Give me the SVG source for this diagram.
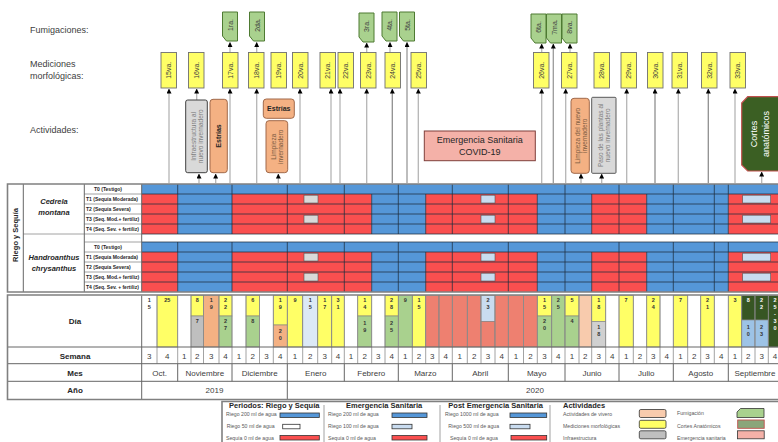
<svg xmlns="http://www.w3.org/2000/svg" width="778" height="442" viewBox="0 0 778 442">
<defs>
<style>
text{font-family:"Liberation Sans",Arial,sans-serif}
.lbl{font-size:9px;fill:#404040}
.mb{fill:#ffff66;stroke:#6f6f6f;stroke-width:.9}
.fb{fill:#a9d18e;stroke:#4e7a32;stroke-width:1}
.rt{font-size:7px;fill:#404040;text-anchor:middle;dominant-baseline:central}
.ln{stroke:#b5b5b5;stroke-width:1.3;fill:none;marker-end:url(#ah)}
.ob{fill:#f4b183;stroke:#a0694a;stroke-width:1}
.gb{fill:#d9d9d9;stroke:#404040;stroke-width:1}
.sm{font-size:6.5px;fill:#7f7f7f;text-anchor:middle;dominant-baseline:central}
.smo{font-size:6.5px;fill:#7a5a40;text-anchor:middle;dominant-baseline:central}
.bt{font-size:7px;font-weight:bold;fill:#262626;text-anchor:middle;dominant-baseline:central}
.bl{fill:#5597d8}.rd{fill:#fa4f4f}
.gl{stroke:#1e2e3e;stroke-width:1;stroke-opacity:.75;fill:none}
.tl{stroke:#8c8c8c;stroke-width:.8;fill:none}
.ml{stroke:#666;stroke-width:1;fill:none}
.fr{stroke:#808080;stroke-width:1.6;fill:none}
.tr{font-size:5px;font-weight:bold;fill:#262626}
.dn{font-size:5.5px;font-weight:bold;fill:#333;text-anchor:middle}
.dw{font-size:5.5px;font-weight:bold;fill:#fff;text-anchor:middle}
.wk{font-size:8px;fill:#404040;text-anchor:middle}
.hd{font-size:8px;font-weight:bold;fill:#262626;text-anchor:middle}
.lg{font-size:5.2px;fill:#595959}
.lh{font-size:7.5px;font-weight:bold;fill:#262626}
.sw{stroke:#333;stroke-width:.8}
.cs{stroke:#7f7f7f;stroke-width:.6}
.lc{stroke:#555;stroke-width:.6}
</style>
<marker id="ah" viewBox="0 0 6 6" refX="5.5" refY="3" markerWidth="5" markerHeight="5" markerUnits="userSpaceOnUse" orient="auto"><path d="M0,0 L6,3 L0,6 z" fill="#000"/></marker>
<path id="fum" d="M0,0H15V29H4L0,24Z"/>
</defs>
<rect width="778" height="442" fill="#fff"/>

<!-- Row labels -->
<g id="row-labels">
<text class="lbl" x="30" y="33">Fumigaciones:</text>
<text class="lbl" x="30" y="66.5">Mediciones</text>
<text class="lbl" x="30" y="78.5">morfológicas:</text>
<text class="lbl" x="30" y="133">Actividades:</text>
</g>

<!-- Connectors -->
<g id="connectors">
<path class="ln" d="M169,183V89"/>
<path class="ln" d="M196.7,100V89"/>
<path class="ln" d="M199,183V174"/>
<path class="ln" d="M215.7,183V174"/>
<path class="ln" d="M230,183V89"/>
<path class="ln" d="M256.7,183V89"/>
<path class="ln" d="M278.3,183V174"/>
<path class="ln" d="M300,183V89"/>
<path class="ln" d="M331,183V89"/>
<path class="ln" d="M340,183V89"/>
<path class="ln" d="M366.7,183V89"/>
<path class="ln" d="M392.3,183V89" style="stroke:#8f8f8f"/>
<path class="ln" d="M418.3,183V89"/>
<path class="ln" d="M541.7,183V89"/>
<path class="ln" d="M565.7,183V89"/>
<path class="ln" d="M581,183V174"/>
<path class="ln" d="M601.7,183V174"/>
<path class="ln" d="M626.7,183V89"/>
<path class="ln" d="M655,183V89" style="stroke:#8f8f8f"/>
<path class="ln" d="M678.3,183V89"/>
<path class="ln" d="M708.3,183V89" style="stroke:#8f8f8f"/>
<path class="ln" d="M735,183V89"/>
<path class="ln" d="M761.7,183V172"/>
<path class="ln" d="M230,52V42.5"/>
<path class="ln" d="M256.7,52V42.5"/>
<path class="ln" d="M366.7,52V43"/>
<path class="ln" d="M390,52V42.5"/>
<path class="ln" d="M407,183V42.5" style="stroke:#9a9a9a"/>
<path class="ln" d="M541.7,52V44"/>
<path class="ln" d="M553.3,183V44" style="stroke:#9a9a9a"/>
<path class="ln" d="M570,52V44"/>
</g>

<!-- Fumigation nodes -->
<g id="fum-1ra"><use href="#fum" class="fb" x="222.5" y="12"/><text class="rt" x="230" y="25" transform="rotate(-90 230 25)">1ra.</text></g>
<g id="fum-2da"><use href="#fum" class="fb" x="249.5" y="12"/><text class="rt" x="257" y="25" transform="rotate(-90 257 25)">2da.</text></g>
<g id="fum-3ra"><use href="#fum" class="fb" x="359" y="13"/><text class="rt" x="366.5" y="26" transform="rotate(-90 366.5 26)">3ra.</text></g>
<g id="fum-4ta"><use href="#fum" class="fb" x="382" y="12"/><text class="rt" x="389.5" y="25" transform="rotate(-90 389.5 25)">4ta.</text></g>
<g id="fum-5ta"><use href="#fum" class="fb" x="399.5" y="12"/><text class="rt" x="407" y="25" transform="rotate(-90 407 25)">5ta.</text></g>
<g id="fum-6ta"><use href="#fum" class="fb" x="531" y="14"/><text class="rt" x="538.5" y="27" transform="rotate(-90 538.5 27)">6ta.</text></g>
<g id="fum-7ma"><use href="#fum" class="fb" x="546.5" y="14"/><text class="rt" x="554" y="27" transform="rotate(-90 554 27)">7ma.</text></g>
<g id="fum-8va"><use href="#fum" class="fb" x="562" y="14"/><text class="rt" x="569.5" y="27" transform="rotate(-90 569.5 27)">8va.</text></g>

<!-- Measurement nodes -->
<g id="m-15"><rect class="mb" x="161" y="52.5" width="15.5" height="35.5"/><text class="rt" x="168.75" y="70.25" transform="rotate(-90 168.75 70.25)">15va.</text></g>
<g id="m-16"><rect class="mb" x="188.5" y="52.5" width="15.5" height="35.5"/><text class="rt" x="196.25" y="70.25" transform="rotate(-90 196.25 70.25)">16va.</text></g>
<g id="m-17"><rect class="mb" x="222.5" y="52.5" width="15.5" height="35.5"/><text class="rt" x="230.25" y="70.25" transform="rotate(-90 230.25 70.25)">17va.</text></g>
<g id="m-18"><rect class="mb" x="248.5" y="52.5" width="15.5" height="35.5"/><text class="rt" x="256.25" y="70.25" transform="rotate(-90 256.25 70.25)">18va.</text></g>
<g id="m-19"><rect class="mb" x="271" y="52.5" width="15.5" height="35.5"/><text class="rt" x="278.75" y="70.25" transform="rotate(-90 278.75 70.25)">19va.</text></g>
<g id="m-20"><rect class="mb" x="292.5" y="52.5" width="15.5" height="35.5"/><text class="rt" x="300.25" y="70.25" transform="rotate(-90 300.25 70.25)">20va.</text></g>
<g id="m-21"><rect class="mb" x="320" y="52.5" width="15.5" height="35.5"/><text class="rt" x="327.75" y="70.25" transform="rotate(-90 327.75 70.25)">21va.</text></g>
<g id="m-22"><rect class="mb" x="338" y="52.5" width="15.5" height="35.5"/><text class="rt" x="345.75" y="70.25" transform="rotate(-90 345.75 70.25)">22va.</text></g>
<g id="m-23"><rect class="mb" x="360.5" y="52.5" width="15.5" height="35.5"/><text class="rt" x="368.25" y="70.25" transform="rotate(-90 368.25 70.25)">23va.</text></g>
<g id="m-24"><rect class="mb" x="385" y="52.5" width="15.5" height="35.5"/><text class="rt" x="392.75" y="70.25" transform="rotate(-90 392.75 70.25)">24va.</text></g>
<g id="m-25"><rect class="mb" x="411" y="52.5" width="15.5" height="35.5"/><text class="rt" x="418.75" y="70.25" transform="rotate(-90 418.75 70.25)">25va.</text></g>
<g id="m-26"><rect class="mb" x="533.5" y="52.5" width="15.5" height="35.5"/><text class="rt" x="541.25" y="70.25" transform="rotate(-90 541.25 70.25)">26va.</text></g>
<g id="m-27"><rect class="mb" x="561.5" y="52.5" width="15.5" height="35.5"/><text class="rt" x="569.25" y="70.25" transform="rotate(-90 569.25 70.25)">27va.</text></g>
<g id="m-28"><rect class="mb" x="594" y="52.5" width="15.5" height="35.5"/><text class="rt" x="601.75" y="70.25" transform="rotate(-90 601.75 70.25)">28va.</text></g>
<g id="m-29"><rect class="mb" x="621" y="52.5" width="15.5" height="35.5"/><text class="rt" x="628.75" y="70.25" transform="rotate(-90 628.75 70.25)">29va.</text></g>
<g id="m-30"><rect class="mb" x="647.5" y="52.5" width="15.5" height="35.5"/><text class="rt" x="655.25" y="70.25" transform="rotate(-90 655.25 70.25)">30va.</text></g>
<g id="m-31"><rect class="mb" x="672" y="52.5" width="15.5" height="35.5"/><text class="rt" x="679.75" y="70.25" transform="rotate(-90 679.75 70.25)">31va.</text></g>
<g id="m-32"><rect class="mb" x="701.5" y="52.5" width="15.5" height="35.5"/><text class="rt" x="709.25" y="70.25" transform="rotate(-90 709.25 70.25)">32va.</text></g>
<g id="m-33"><rect class="mb" x="730" y="52.5" width="15.5" height="35.5"/><text class="rt" x="737.75" y="70.25" transform="rotate(-90 737.75 70.25)">33va.</text></g>

<!-- Activity nodes -->
<g id="a-infra"><rect class="gb" x="185.7" y="100" width="21.6" height="72.7" rx="2"/><text class="sm" transform="rotate(-90 196.5 136.3)"><tspan x="196.5" y="133">Infraestructura al</tspan><tspan x="196.5" y="140">nuevo invernadero</tspan></text></g>
<g id="a-estrias1"><rect class="ob" x="210" y="99.3" width="17.3" height="73.4" rx="3"/><text class="bt" x="218.7" y="136" transform="rotate(-90 218.7 136)">Estrías</text></g>
<g id="a-estrias2"><rect class="ob" x="263.3" y="99" width="31" height="19.3" rx="3"/><text class="bt" x="278.8" y="108.7">Estrías</text></g>
<g id="a-limpieza1"><rect class="ob" x="266" y="120.7" width="21.7" height="52" rx="3"/><text class="smo" transform="rotate(-90 276.8 146.7)"><tspan x="276.8" y="143.2">Limpieza</tspan><tspan x="276.8" y="150.2">invernadero</tspan></text></g>
<g id="a-emergencia"><rect x="424.3" y="131" width="111" height="29.7" fill="#f4b1a8" stroke="#7f3f3a" stroke-width="1"/><text x="479.8" y="142.5" font-size="9" fill="#262626" text-anchor="middle">Emergencia Sanitaria</text><text x="479.8" y="154.5" font-size="9" fill="#262626" text-anchor="middle">COVID-19</text></g>
<g id="a-limpieza2"><rect class="ob" x="571" y="98.3" width="18.3" height="75" rx="3"/><text class="smo" transform="rotate(-90 580.2 135.8)"><tspan x="580.2" y="132.3">Limpieza del nuevo</tspan><tspan x="580.2" y="139.3">invernadero</tspan></text></g>
<g id="a-paso"><rect class="gb" x="591.7" y="97.3" width="24.3" height="76" rx="1" style="stroke:#595959"/><text class="sm" transform="rotate(-90 603.8 135.3)"><tspan x="603.8" y="131.8">Paso de las plantas al</tspan><tspan x="603.8" y="138.8">nuevo invernadero</tspan></text></g>
<g id="a-cortes"><path d="M741.7,103 L747.7,96.7 H790 V171 H747.7 L741.7,165 Z" fill="#3b5f23" stroke="#c0504d" stroke-width="1.2"/><text font-size="9" fill="#fff" text-anchor="middle" dominant-baseline="central" transform="rotate(-90 760 134)"><tspan x="760" y="127.5">Cortes</tspan><tspan x="760" y="139.5">anatómicos</tspan></text></g>

<!-- Riego y Sequia grid -->
<g id="riego-grid">
<rect class="bl" x="141.7" y="184" width="636.3" height="10"/>
<rect class="bl" x="141.7" y="242" width="636.3" height="10"/>
<g id="seg-c">
<rect class="rd" x="141.7" y="194" width="36" height="40"/>
<rect class="bl" x="177.7" y="194" width="54.3" height="40"/>
<rect class="rd" x="232" y="194" width="139.7" height="40"/>
<rect class="bl" x="371.7" y="194" width="54" height="40"/>
<rect class="rd" x="425.7" y="194" width="111.6" height="40"/>
<rect class="bl" x="537.3" y="194" width="54.4" height="40"/>
<rect class="rd" x="591.7" y="194" width="55" height="40"/>
<rect class="bl" x="646.7" y="194" width="81.6" height="40"/>
<rect class="rd" x="728.3" y="194" width="49.7" height="40"/>
</g>
<use href="#seg-c" y="58"/>
<g id="cells-c">
<rect x="304" y="195.2" width="14" height="7.8" fill="#d9d9d9" stroke="#555" stroke-width=".6"/>
<rect x="304" y="215.2" width="14" height="7.8" fill="#d9d9d9" stroke="#555" stroke-width=".6"/>
<rect x="481" y="195.2" width="14" height="7.8" fill="#c9dcf0" stroke="#555" stroke-width=".6"/>
<rect x="481" y="215.2" width="14" height="7.8" fill="#c9dcf0" stroke="#555" stroke-width=".6"/>
<rect x="742.7" y="195.2" width="28" height="7.8" fill="#c9dcf0" stroke="#555" stroke-width=".6"/>
<rect x="742.7" y="215.2" width="28" height="7.8" fill="#c9dcf0" stroke="#555" stroke-width=".6"/>
</g>
<use href="#cells-c" y="58"/>
<path class="gl" d="M141.7,194H778M141.7,204H778M141.7,214H778M141.7,224H778M141.7,234H778M141.7,242H778M141.7,252H778M141.7,262H778M141.7,272H778M141.7,282H778"/>
<path class="gl" d="M177.7,184V234M177.7,242V292M232,184V234M232,242V292M287.3,184V234M287.3,242V292M344.3,184V234M344.3,242V292M398.3,184V234M398.3,242V292M452.3,184V234M452.3,242V292M508.3,184V234M508.3,242V292M565,184V234M565,242V292M619,184V234M619,242V292M673.3,184V234M673.3,242V292M714.3,184V234M714.3,242V292M728.3,184V234M728.3,242V292"/>
<path class="gl" d="M371.7,194V234M371.7,252V292M425.7,194V234M425.7,252V292M537.3,194V234M537.3,252V292M591.7,194V234M591.7,252V292M646.7,194V234M646.7,252V292"/>
</g>

<!-- Riego labels -->
<g id="riego-labels">
<path class="tl" d="M84.3,194H141.7M84.3,204H141.7M84.3,214H141.7M84.3,224H141.7M23.3,234H141.7M84.3,242H141.7M84.3,252H141.7M84.3,262H141.7M84.3,272H141.7M84.3,282H141.7"/>
<path class="ml" d="M23.3,184V292M84.3,184V292M141.7,184V292"/>
<path class="fr" d="M778,184H7.5V292H778"/>
<text font-size="7.5" font-weight="bold" fill="#262626" text-anchor="middle" dominant-baseline="central" x="15" y="235" transform="rotate(-90 15 235)">Riego y Sequía</text>
<text font-size="7.5" font-weight="bold" font-style="italic" fill="#262626" text-anchor="middle" x="54" y="204">Cedrela</text>
<text font-size="7.5" font-weight="bold" font-style="italic" fill="#262626" text-anchor="middle" x="54" y="215">montana</text>
<text font-size="7.5" font-weight="bold" font-style="italic" fill="#262626" text-anchor="middle" x="54" y="260">Handroanthus</text>
<text font-size="7.5" font-weight="bold" font-style="italic" fill="#262626" text-anchor="middle" x="54" y="271">chrysanthus</text>
<text class="tr" x="94" y="190.8">T0 (Testigo)</text>
<text class="tr" x="86" y="200.8">T1 (Sequía Moderada)</text>
<text class="tr" x="86" y="210.8">T2 (Sequía Severa)</text>
<text class="tr" x="86" y="220.8">T3 (Seq. Mod.+ fertiliz)</text>
<text class="tr" x="86" y="230.8">T4 (Seq. Sev. + fertiliz)</text>
<text class="tr" x="94" y="248.8">T0 (Testigo)</text>
<text class="tr" x="86" y="258.8">T1 (Sequía Moderada)</text>
<text class="tr" x="86" y="268.8">T2 (Sequía Severa)</text>
<text class="tr" x="86" y="278.8">T3 (Seq. Mod.+ fertiliz)</text>
<text class="tr" x="86" y="288.8">T4 (Seq. Sev. + fertiliz)</text>
</g>

<!-- Day cells -->
<g id="dia-row">
<rect class="cs" x="157" y="295.5" width="20.7" height="51.5" fill="#ffff66"/>
<rect class="cs" x="191" y="295.5" width="12.5" height="20.5" fill="#ffff66"/>
<rect class="cs" x="191" y="316" width="12.5" height="31" fill="#bfbfbf"/>
<rect class="cs" x="203.5" y="295.5" width="15.5" height="51.5" fill="#f4b183"/>
<rect class="cs" x="219" y="295.5" width="13" height="20.5" fill="#ffff66"/>
<rect class="cs" x="219" y="316" width="13" height="31" fill="#a9d18e"/>
<rect class="cs" x="246" y="295.5" width="13.5" height="20.5" fill="#ffff66"/>
<rect class="cs" x="246" y="316" width="13.5" height="31" fill="#a9d18e"/>
<rect class="cs" x="273.3" y="295.5" width="14" height="29.5" fill="#ffff66"/>
<rect class="cs" x="273.3" y="325" width="14" height="22" fill="#f4b183"/>
<rect class="cs" x="287.3" y="295.5" width="15.4" height="51.5" fill="#ffff66"/>
<rect class="cs" x="302.7" y="295.5" width="15" height="51.5" fill="#dce9f6"/>
<rect class="cs" x="317.7" y="295.5" width="14" height="51.5" fill="#ffff66"/>
<rect class="cs" x="331.7" y="295.5" width="12.6" height="51.5" fill="#ffff66"/>
<rect class="cs" x="357.7" y="295.5" width="14" height="20.5" fill="#ffff66"/>
<rect class="cs" x="357.7" y="316" width="14" height="31" fill="#a9d18e"/>
<rect class="cs" x="385" y="295.5" width="13.3" height="20.5" fill="#ffff66"/>
<rect class="cs" x="385" y="316" width="13.3" height="31" fill="#a9d18e"/>
<rect class="cs" x="398.3" y="295.5" width="14" height="51.5" fill="#a9d18e"/>
<rect class="cs" x="412.3" y="295.5" width="13.4" height="51.5" fill="#ffff66"/>
<rect class="cs" x="425.7" y="295.5" width="13.3" height="51.5" fill="#ee8070"/>
<rect class="cs" x="439" y="295.5" width="13.3" height="51.5" fill="#ee8070"/>
<rect class="cs" x="452.3" y="295.5" width="15" height="51.5" fill="#ee8070"/>
<rect class="cs" x="467.3" y="295.5" width="13.7" height="51.5" fill="#ee8070"/>
<rect class="cs" x="481" y="295.5" width="14" height="26" fill="#c9dcf0"/>
<rect class="cs" x="481" y="321.5" width="14" height="25.5" fill="#ee8070"/>
<rect class="cs" x="495" y="295.5" width="13.3" height="51.5" fill="#ee8070"/>
<rect class="cs" x="508.3" y="295.5" width="15.2" height="51.5" fill="#ee8070"/>
<rect class="cs" x="523.5" y="295.5" width="13.8" height="51.5" fill="#ee8070"/>
<rect class="cs" x="537.3" y="295.5" width="14.4" height="20.5" fill="#ffff66"/>
<rect class="cs" x="537.3" y="316" width="14.4" height="31" fill="#a9d18e"/>
<rect class="cs" x="551.7" y="295.5" width="13.3" height="51.5" fill="#a9d18e"/>
<rect class="cs" x="565" y="295.5" width="14" height="20.5" fill="#ffff66"/>
<rect class="cs" x="565" y="316" width="14" height="31" fill="#a9d18e"/>
<rect class="cs" x="579" y="295.5" width="12.7" height="51.5" fill="#f8cbad"/>
<rect class="cs" x="591.7" y="295.5" width="14" height="26" fill="#ffff66"/>
<rect class="cs" x="591.7" y="321.5" width="14" height="25.5" fill="#d0d0d0"/>
<rect class="cs" x="619" y="295.5" width="14.3" height="51.5" fill="#ffff66"/>
<rect class="cs" x="646.7" y="295.5" width="13.3" height="51.5" fill="#ffff66"/>
<rect class="cs" x="673.3" y="295.5" width="14.4" height="51.5" fill="#ffff66"/>
<rect class="cs" x="700.7" y="295.5" width="13.6" height="51.5" fill="#ffff66"/>
<rect class="cs" x="728.3" y="295.5" width="13.4" height="51.5" fill="#ffff66"/>
<rect class="cs" x="741.7" y="295.5" width="13.3" height="24.5" fill="#375623"/>
<rect class="cs" x="741.7" y="320" width="13.3" height="27" fill="#9dc3e6"/>
<rect class="cs" x="755" y="295.5" width="13.3" height="24.5" fill="#375623"/>
<rect class="cs" x="755" y="320" width="13.3" height="27" fill="#9dc3e6"/>
<rect class="cs" x="768.3" y="295.5" width="13.3" height="51.5" fill="#375623"/>

<text class="dn" x="149.35" y="302">1</text><text class="dn" x="149.35" y="309">5</text>
<text class="dn" x="167.35" y="302">25</text>
<text class="dn" x="197.25" y="302">8</text><text class="dn" x="197.25" y="323">7</text>
<text class="dn" x="211.25" y="302">1</text><text class="dn" x="211.25" y="309">9</text>
<text class="dn" x="225.5" y="302">2</text><text class="dn" x="225.5" y="309">2</text>
<text class="dn" x="225.5" y="323">2</text><text class="dn" x="225.5" y="330">7</text>
<text class="dn" x="252.75" y="302">6</text><text class="dn" x="252.75" y="323">8</text>
<text class="dn" x="280.3" y="302">1</text><text class="dn" x="280.3" y="309">9</text>
<text class="dn" x="280.3" y="333">2</text><text class="dn" x="280.3" y="340">0</text>
<text class="dn" x="295" y="302">9</text>
<text class="dn" x="310.2" y="302">1</text><text class="dn" x="310.2" y="309">5</text>
<text class="dn" x="324.7" y="302">1</text><text class="dn" x="324.7" y="309">7</text>
<text class="dn" x="338" y="302">3</text><text class="dn" x="338" y="309">1</text>
<text class="dn" x="364.7" y="302">1</text><text class="dn" x="364.7" y="309">4</text>
<text class="dn" x="364.7" y="325">1</text><text class="dn" x="364.7" y="332">9</text>
<text class="dn" x="391.65" y="302">2</text><text class="dn" x="391.65" y="309">8</text>
<text class="dn" x="391.65" y="325">2</text><text class="dn" x="391.65" y="332">5</text>
<text class="dn" x="405.3" y="302">9</text>
<text class="dn" x="419" y="302">1</text><text class="dn" x="419" y="309">5</text>
<text class="dn" x="488" y="302">2</text><text class="dn" x="488" y="309">3</text>
<text class="dn" x="544.5" y="302">1</text><text class="dn" x="544.5" y="309">5</text>
<text class="dn" x="544.5" y="323">2</text><text class="dn" x="544.5" y="330">0</text>
<text class="dn" x="558.35" y="302">2</text><text class="dn" x="558.35" y="309">5</text>
<text class="dn" x="572" y="302">5</text><text class="dn" x="572" y="323">4</text>
<text class="dn" x="598.7" y="302">1</text><text class="dn" x="598.7" y="309">8</text>
<text class="dn" x="598.7" y="329">1</text><text class="dn" x="598.7" y="336">8</text>
<text class="dn" x="626.15" y="302">7</text>
<text class="dn" x="653.35" y="302">2</text><text class="dn" x="653.35" y="309">4</text>
<text class="dn" x="680.5" y="302">7</text>
<text class="dn" x="707.5" y="302">2</text><text class="dn" x="707.5" y="309">1</text>
<text class="dn" x="735" y="302">3</text>
<text class="dw" x="748.35" y="302">8</text>
<text class="dn" x="748.35" y="329">1</text><text class="dn" x="748.35" y="336">0</text>
<text class="dw" x="761.65" y="302">2</text><text class="dw" x="761.65" y="309">2</text>
<text class="dn" x="761.65" y="329">2</text><text class="dn" x="761.65" y="336">3</text>
<text class="dw" x="774.95" y="302">2</text><text class="dw" x="774.95" y="309">5</text><text class="dw" x="774.95" y="316">-</text><text class="dw" x="774.95" y="323">3</text><text class="dw" x="774.95" y="330">0</text>
</g>

<!-- Time table -->
<g id="time-table">
<path class="tl" d="M157,295.5V363.7M177.7,295.5V363.7M191,295.5V363.7M203.5,295.5V363.7M219,295.5V363.7M232,295.5V363.7M246,295.5V363.7M259.5,295.5V363.7M273.3,295.5V363.7M287.3,295.5V363.7M302.7,295.5V363.7M317.7,295.5V363.7M331.7,295.5V363.7M344.3,295.5V363.7M357.7,295.5V363.7M371.7,295.5V363.7M385,295.5V363.7M398.3,295.5V363.7M412.3,295.5V363.7M425.7,295.5V363.7M439,295.5V363.7M452.3,295.5V363.7M467.3,295.5V363.7M481,295.5V363.7M495,295.5V363.7M508.3,295.5V363.7M523.5,295.5V363.7M537.3,295.5V363.7M551.7,295.5V363.7M565,295.5V363.7M579,295.5V363.7M591.7,295.5V363.7M605.7,295.5V363.7M619,295.5V363.7M633.3,295.5V363.7M646.7,295.5V363.7M660,295.5V363.7M673.3,295.5V363.7M687.7,295.5V363.7M700.7,295.5V363.7M714.3,295.5V363.7M728.3,295.5V363.7M741.7,295.5V363.7M755,295.5V363.7M768.3,295.5V363.7"/>
<path class="ml" d="M177.7,363.7V381.3M232,363.7V381.3M287.3,363.7V399M344.3,363.7V381.3M398.3,363.7V381.3M452.3,363.7V381.3M508.3,363.7V381.3M565,363.7V381.3M619,363.7V381.3M673.3,363.7V381.3M728.3,363.7V381.3"/>
<path class="ml" d="M7.5,347H778M7.5,363.7H778M7.5,381.3H778M141.7,295.5V399"/>
<path class="fr" d="M778,295H7.5V399.5H778"/>
<text class="hd" x="75" y="324">Día</text>
<text class="hd" x="75" y="358.5">Semana</text>
<text class="hd" x="75" y="375.5">Mes</text>
<text class="hd" x="75" y="393">Año</text>
<text class="wk" x="149.35" y="358.5">3</text><text class="wk" x="167.35" y="358.5">4</text>
<text class="wk" x="184.35" y="358.5">1</text><text class="wk" x="197.25" y="358.5">2</text><text class="wk" x="211.25" y="358.5">3</text><text class="wk" x="225.5" y="358.5">4</text>
<text class="wk" x="239" y="358.5">1</text><text class="wk" x="252.75" y="358.5">2</text><text class="wk" x="266.4" y="358.5">3</text><text class="wk" x="280.3" y="358.5">4</text>
<text class="wk" x="295" y="358.5">1</text><text class="wk" x="310.2" y="358.5">2</text><text class="wk" x="324.7" y="358.5">3</text><text class="wk" x="338" y="358.5">4</text>
<text class="wk" x="351" y="358.5">1</text><text class="wk" x="364.7" y="358.5">2</text><text class="wk" x="378.35" y="358.5">3</text><text class="wk" x="391.65" y="358.5">4</text>
<text class="wk" x="405.3" y="358.5">1</text><text class="wk" x="419" y="358.5">2</text><text class="wk" x="432.35" y="358.5">3</text><text class="wk" x="445.65" y="358.5">4</text>
<text class="wk" x="459.8" y="358.5">1</text><text class="wk" x="474.15" y="358.5">2</text><text class="wk" x="488" y="358.5">3</text><text class="wk" x="501.65" y="358.5">4</text>
<text class="wk" x="515.9" y="358.5">1</text><text class="wk" x="530.4" y="358.5">2</text><text class="wk" x="544.5" y="358.5">3</text><text class="wk" x="558.35" y="358.5">4</text>
<text class="wk" x="572" y="358.5">1</text><text class="wk" x="585.35" y="358.5">2</text><text class="wk" x="598.7" y="358.5">3</text><text class="wk" x="612.35" y="358.5">4</text>
<text class="wk" x="626.15" y="358.5">1</text><text class="wk" x="640" y="358.5">2</text><text class="wk" x="653.35" y="358.5">3</text><text class="wk" x="666.65" y="358.5">4</text>
<text class="wk" x="680.5" y="358.5">1</text><text class="wk" x="694.2" y="358.5">2</text><text class="wk" x="707.5" y="358.5">3</text><text class="wk" x="721.3" y="358.5">4</text>
<text class="wk" x="735" y="358.5">1</text><text class="wk" x="748.35" y="358.5">2</text><text class="wk" x="761.65" y="358.5">3</text><text class="wk" x="774.95" y="358.5">4</text>
<text class="wk" x="159.7" y="375.5">Oct.</text>
<text class="wk" x="204.9" y="375.5">Noviembre</text>
<text class="wk" x="259.7" y="375.5">Diciembre</text>
<text class="wk" x="315.8" y="375.5">Enero</text>
<text class="wk" x="371.3" y="375.5">Febrero</text>
<text class="wk" x="425.3" y="375.5">Marzo</text>
<text class="wk" x="480.3" y="375.5">Abril</text>
<text class="wk" x="536.7" y="375.5">Mayo</text>
<text class="wk" x="592" y="375.5">Junio</text>
<text class="wk" x="646.2" y="375.5">Julio</text>
<text class="wk" x="700.8" y="375.5">Agosto</text>
<text class="wk" x="755" y="375.5">Septiembre</text>
<text class="wk" x="214.5" y="393">2019</text>
<text class="wk" x="535" y="393">2020</text>
</g>

<!-- Legend -->
<g id="legend">
<path class="fr" d="M222,442V401.5H778"/>
<path class="tl" d="M324,405V442M440,405V442M550,405V442"/>
<text class="lh" x="229" y="408">Periodos: Riego y Sequía</text>
<text class="lg" x="226" y="416">Riego 200 ml de agua</text>
<rect class="sw" x="280" y="413" width="39.3" height="4.5" fill="#5597d8"/>
<text class="lg" x="226.7" y="427.7">Riego 50 ml de agua</text>
<rect class="sw" x="282.7" y="424.3" width="17.3" height="4.5" fill="#fff"/>
<text class="lg" x="226" y="439.5">Sequía 0 ml de agua</text>
<rect class="sw" x="280" y="435.5" width="39.3" height="4.5" fill="#fa4f4f"/>

<text class="lh" x="346" y="408">Emergencia Sanitaria</text>
<text class="lg" x="328" y="416">Riego 200 ml de agua</text>
<rect class="sw" x="392" y="413" width="35" height="4.5" fill="#5597d8"/>
<text class="lg" x="328" y="427.7">Riego 100 ml de agua</text>
<rect class="sw" x="392" y="424.3" width="20" height="4.5" fill="#c9dcf0"/>
<text class="lg" x="328" y="439.5">Sequía 0 ml de agua</text>
<rect class="sw" x="392" y="435.5" width="35" height="4.5" fill="#fa4f4f"/>

<text class="lh" x="448.3" y="408">Post Emergencia Sanitaria</text>
<text class="lg" x="445" y="416">Riego 1000 ml de agua</text>
<rect class="sw" x="510" y="413" width="36.7" height="4.5" fill="#5597d8"/>
<text class="lg" x="448.3" y="427.7">Riego 500 ml de agua</text>
<rect class="sw" x="510" y="424.3" width="20" height="4.5" fill="#c9dcf0"/>
<text class="lg" x="450" y="439.5">Sequía 0 ml de agua</text>
<rect class="sw" x="511" y="435.5" width="35.7" height="4.5" fill="#fa4f4f"/>

<text class="lh" x="563" y="407.5">Actividades</text>
<text class="lg" x="563" y="416">Actividades de vivero</text>
<rect class="sw" x="639.3" y="409.5" width="26.7" height="8" rx="1.5" fill="#f8cbad"/>
<text class="lg" x="563" y="427.7">Mediciones morfológicas</text>
<rect class="sw" x="639.3" y="420.3" width="26.7" height="8" rx="1.5" fill="#ffff66"/>
<text class="lg" x="563" y="439.5">Infraestructura</text>
<rect class="sw" x="639.3" y="430.8" width="26.7" height="8" rx="1.5" fill="#bfbfbf"/>
<text class="lg" x="677" y="414.5">Fumigación</text>
<path d="M740.5,408.5H764V417.5H737V412Z" fill="#a9d18e" stroke="#333" stroke-width=".8"/>
<text class="lg" x="677" y="427.7">Cortes Anatómicos</text>
<rect x="737.7" y="420" width="26.5" height="8.3" fill="#8aa67a" stroke="#c0504d" stroke-width=".9"/>
<text class="lg" x="677" y="439.5">Emergencia sanitaria</text>
<rect class="sw" x="737.5" y="430.8" width="26.7" height="8" fill="#f4b1a8"/>
</g>
</svg>
